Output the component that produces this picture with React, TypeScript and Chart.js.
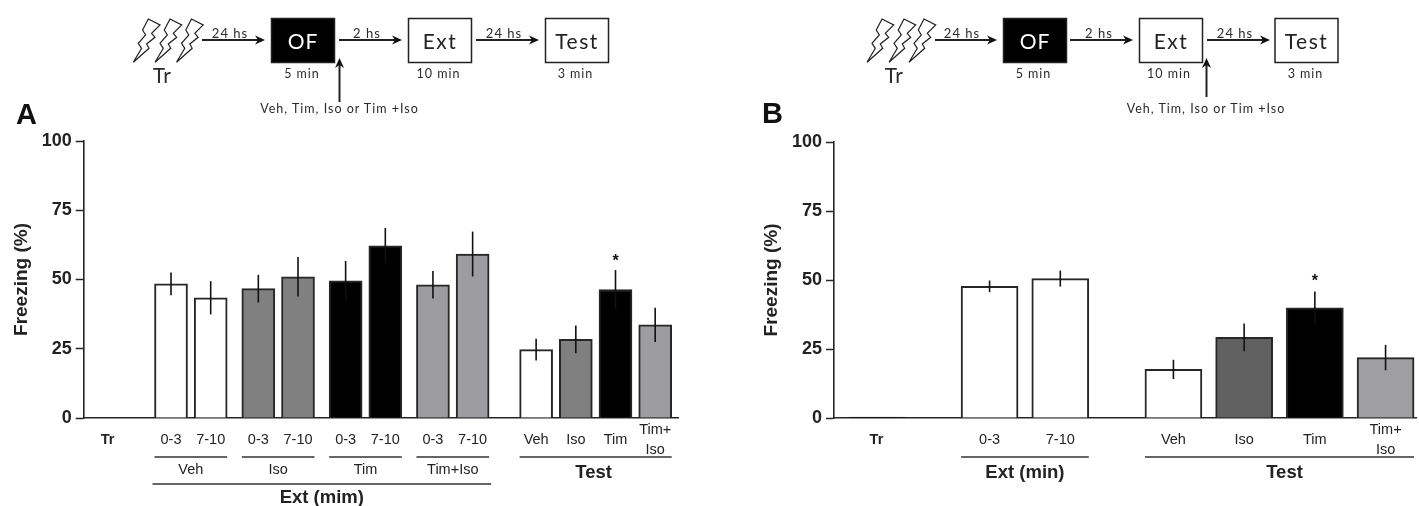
import React, { useEffect, useRef } from "react";
import { Chart, registerables } from "chart.js";

Chart.register(...registerables);

// ---------- data ----------
const labelsA: (string | string[])[] = ["Tr", "0-3", "7-10", "0-3", "7-10", "0-3", "7-10", "0-3", "7-10", "Veh", "Iso", "Tim", ["Tim+", "Iso"]];
const meansA: (number | null)[] = [null, 48.4, 43.4, 46.7, 51, 49.5, 62.2, 48.1, 59.2, 24.7, 28.4, 46.4, 33.6];
const semA: (number | null)[] = [null, 4.1, 6, 5, 7.1, 7.2, 6.4, 5, 8.1, 3.9, 5, 7, 6.2];
const fillsA = ["#ffffff", "#ffffff", "#ffffff", "#808080", "#808080", "#000000", "#000000", "#9d9da1", "#9d9da1", "#ffffff", "#808080", "#000000", "#9d9da1"];

const labelsB: (string | string[])[] = ["Tr", "0-3", "7-10", "Veh", "Iso", "Tim", ["Tim+", "Iso"]];
const meansB: (number | null)[] = [0.3, 47.7, 50.5, 17.6, 29.2, 39.9, 21.9];
const semB: (number | null)[] = [null, 2.1, 2.9, 3.5, 5, 5.9, 4.6];
const fillsB = ["#000000", "#ffffff", "#ffffff", "#ffffff", "#606060", "#000000", "#9f9fa3"];

const yTicks = [0, 25, 50, 75, 100];

const FONT = "'Liberation Sans', Arial, sans-serif";
const DARK = "#262626";

type Group = { from: number; to: number; text: string; lineY: number; textY: number; bold: boolean; extend?: number; nudge?: number };

const groupsA: Group[] = [
  { from: 1, to: 2, text: "Veh", lineY: 457, textY: 470, bold: false },
  { from: 3, to: 4, text: "Iso", lineY: 457, textY: 470, bold: false },
  { from: 5, to: 6, text: "Tim", lineY: 457, textY: 470, bold: false },
  { from: 7, to: 8, text: "Tim+Iso", lineY: 457, textY: 470, bold: false },
  { from: 9, to: 12, text: "Test", lineY: 457, textY: 472.5, bold: true, nudge: -2 },
  { from: 1, to: 8, text: "Ext (mim)", lineY: 484, textY: 498, bold: true, extend: 2 },
];
const groupsB: Group[] = [
  { from: 1, to: 2, text: "Ext (min)", lineY: 457, textY: 473, bold: true },
  { from: 3, to: 6, text: "Test", lineY: 457, textY: 473, bold: true, nudge: 5 },
];

// ---------- slot layout: blank categories space the bars like the original ----------
const gapsA = [3, 8, 5, 6, 5, 6, 5, 6, 5, 8, 5, 5, 5, 3];
const gapsB = [3, 8, 5, 8, 5, 5, 5, 3];

function buildSlots(gaps: number[], labels: (string | string[])[], values: (number | null)[], fills: string[]) {
  const total = gaps.reduce((a, b) => a + b, 0) + 1;
  const outLabels: (string | string[])[] = Array(total).fill("");
  const outValues: (number | null)[] = Array(total).fill(null);
  const outFills: string[] = Array(total).fill("#ffffff");
  const index: number[] = [];
  let pos = 0;
  labels.forEach((label, i) => {
    pos += gaps[i];
    index.push(pos);
    outLabels[pos] = label;
    outValues[pos] = values[i];
    outFills[pos] = fills[i];
  });
  return { outLabels, outValues, outFills, index };
}

type PanelProps = {
  left: number; width: number; clip: number; axisWidth: number; top: number;
  barWidth: number; labels: (string | string[])[]; means: (number | null)[]; sem: (number | null)[];
  fills: string[]; gaps: number[]; groups: Group[]; starBar: number; starGap: number;
};

function Panel(p: PanelProps) {
  const ref = useRef<HTMLCanvasElement | null>(null);
  useEffect(() => {
    if (!ref.current) return;
    const s = buildSlots(p.gaps, p.labels, p.means, p.fills);
    const annotations = {
      id: "annotations",
      afterDatasetsDraw(chart: any) {
        const { ctx, scales } = chart;
        const x = scales.x, y = scales.y;
        ctx.save();
        // error bars
        ctx.strokeStyle = "#111111";
        ctx.lineWidth = 1.6;
        p.sem.forEach((e, i) => {
          const m = p.means[i];
          if (e == null || m == null) return;
          const px = x.getPixelForValue(s.index[i]);
          ctx.beginPath();
          ctx.moveTo(px, y.getPixelForValue(m - e));
          ctx.lineTo(px, y.getPixelForValue(m + e));
          ctx.stroke();
        });
        // significance star
        const sx = x.getPixelForValue(s.index[p.starBar]);
        const sy = y.getPixelForValue((p.means[p.starBar] as number) + (p.sem[p.starBar] as number));
        ctx.fillStyle = "#111111";
        ctx.font = `bold 16px ${FONT}`;
        ctx.textAlign = "center";
        ctx.textBaseline = "middle";
        ctx.fillText("*", sx, sy - p.starGap);
        // group brackets
        p.groups.forEach((g) => {
          const half = p.barWidth / 2;
          const ext = g.extend ?? 0;
          const x0 = x.getPixelForValue(s.index[g.from]) - half - ext;
          const x1 = x.getPixelForValue(s.index[g.to]) + half + ext;
          ctx.strokeStyle = "#333333";
          ctx.lineWidth = 1.6;
          ctx.beginPath();
          ctx.moveTo(x0, g.lineY);
          ctx.lineTo(x1, g.lineY);
          ctx.stroke();
          ctx.fillStyle = "#222222";
          ctx.font = g.bold ? `bold 18.5px ${FONT}` : `14.5px ${FONT}`;
          ctx.fillText(g.text, (x0 + x1) / 2 + (g.nudge ?? 0), g.textY);
        });
        ctx.restore();
      },
    };
    const chart = new Chart(ref.current, {
      type: "bar",
      data: {
        labels: s.outLabels as any,
        datasets: [{
          data: s.outValues as any,
          backgroundColor: s.outFills,
          borderColor: DARK,
          borderWidth: 2,
          borderSkipped: "bottom",
          barThickness: p.barWidth,
        }],
      },
      plugins: [annotations],
      options: {
        responsive: false,
        animation: false,
        layout: { padding: { top: p.top, left: 0, right: 0, bottom: 0 } },
        plugins: { legend: { display: false }, tooltip: { enabled: false } },
        scales: {
          x: {
            type: "category",
            offset: false,
            grid: { display: false, drawTicks: false },
            border: { color: DARK, width: 1.6 },
            afterFit: (sc: any) => {
              sc.height = 506 - 418;
              sc.paddingLeft = 0;
              sc.paddingRight = 0;
            },
            ticks: {
              autoSkip: false,
              maxRotation: 0,
              minRotation: 0,
              padding: 12,
              crossAlign: "center",
              color: "#222222",
              font: (c: any) => ({
                family: FONT,
                size: 14.5,
                lineHeight: 1.38,
                weight: c.tick && c.tick.label === "Tr" ? "bold" : "normal",
              }),
            },
          },
          y: {
            min: 0,
            max: 100,
            afterFit: (sc: any) => { sc.width = p.axisWidth; },
            afterBuildTicks: (sc: any) => { sc.ticks = yTicks.map((value) => ({ value })); },
            grid: { drawOnChartArea: false, drawTicks: true, tickLength: 8, tickColor: DARK, tickWidth: 1.5 },
            border: { color: DARK, width: 1.6 },
            ticks: { padding: 4, color: "#222222", font: { family: FONT, size: 18, weight: "bold" } },
            title: {
              display: true,
              text: "Freezing (%)",
              color: "#222222",
              padding: { top: 10, bottom: 0 },
              font: { family: FONT, size: 19, weight: "bold" },
            },
          },
        },
      } as any,
    });
    return () => chart.destroy();
  }, []);
  return (
    <div style={{ position: "absolute", left: p.left, top: 0, width: p.clip, height: 506, overflow: "hidden" }}>
      <canvas ref={ref} width={p.width} height={506} style={{ display: "block", width: p.width, height: 506 }} />
    </div>
  );
}

// ---------- protocol diagrams ----------
const BOLT = "15,0 26.7,6 18.3,14.3 21.7,18.3 13.3,25 15.7,29.3 0,43.3 8.3,29.3 5,24.3 12.3,16 9.3,11";
const DFONT = "Lato, 'Open Sans', sans-serif";

function Arrow({ x1, y1, x2, y2 }: { x1: number; y1: number; x2: number; y2: number }) {
  const horizontal = y1 === y2;
  const head = horizontal
    ? `${x2},${y2} ${x2 - 10},${y2 - 4.5} ${x2 - 7},${y2} ${x2 - 10},${y2 + 4.5}`
    : `${x2},${y2} ${x2 - 4.5},${y2 + 10} ${x2},${y2 + 7} ${x2 + 4.5},${y2 + 10}`;
  return (
    <g>
      <line x1={x1} y1={y1} x2={horizontal ? x2 - 5 : x2} y2={horizontal ? y2 : y2 + 5} stroke="#222" strokeWidth={2} />
      <polygon points={head} fill="#111" />
    </g>
  );
}

type DiagramProps = {
  bolts: number[]; trX: number;
  arrows: [number, number, string, number][];
  boxes: [number, string, number, string][];
  upX: number; upTop: number; upBottom: number; noteX: number;
};

function Diagram(d: DiagramProps) {
  const t = (x: number, y: number, s: string, size: number, spacing: number, fill = "#2a2a2a") => (
    <text x={x} y={y} textAnchor="middle" dominantBaseline="central" fontFamily={DFONT} fontSize={size} letterSpacing={spacing} fill={fill}>{s}</text>
  );
  return (
    <g>
      {d.bolts.map((x) => (
        <polygon key={x} points={BOLT} transform={`translate(${x} 19)`} fill="#fff" stroke="#222" strokeWidth={1.2} />
      ))}
      {t(d.trX, 74, "Tr", 21, 0.5)}
      {d.arrows.map(([a, b, s, c]) => (
        <g key={a}>
          <Arrow x1={a} y1={40} x2={b} y2={40} />
          {t(c, 33, s, 13, 1)}
        </g>
      ))}
      {d.boxes.map(([x, name, cx, dur], i) => (
        <g key={x}>
          <rect x={x} y={18.5} width={63} height={44} fill={i === 0 ? "#000" : "#fff"} stroke="#222" strokeWidth={1.5} />
          {t(x + 31.5, 40, name, 21, i === 0 ? 1 : 1.5, i === 0 ? "#fff" : "#222")}
          {t(cx, 73, dur, 12.5, 1)}
        </g>
      ))}
      <Arrow x1={d.upX} y1={d.upBottom} x2={d.upX} y2={d.upTop} />
      {t(d.noteX, 108, "Veh, Tim, Iso or Tim +Iso", 12.5, 1)}
    </g>
  );
}

export default function App() {
  return (
    <>
      <Panel left={0} width={679} clip={700} axisWidth={83.7} top={141} barWidth={33}
        labels={labelsA} means={meansA} sem={semA} fills={fillsA} gaps={gapsA} groups={groupsA} starBar={11} starGap={8} />
      <Panel left={750} width={678} clip={667} axisWidth={84} top={142} barWidth={57}
        labels={labelsB} means={meansB} sem={semB} fills={fillsB} gaps={gapsB} groups={groupsB} starBar={5} starGap={10} />
      <svg width={1419} height={506} style={{ position: "absolute", left: 0, top: 0, pointerEvents: "none" }}>
        <text x={16} y={124} fontFamily={FONT} fontWeight="bold" fontSize={29} fill="#111">A</text>
        <text x={762} y={123} fontFamily={FONT} fontWeight="bold" fontSize={29} fill="#111">B</text>
        <Diagram bolts={[133.3, 155, 176.5]} trX={162}
          arrows={[[202, 265, "24 hs", 230], [339, 402, "2 hs", 367], [476, 539, "24 hs", 504]]}
          boxes={[[271.5, "OF", 302, "5 min"], [408.5, "Ext", 438.5, "10 min"], [545.5, "Test", 575.5, "3 min"]]}
          upX={339.5} upTop={58} upBottom={102} noteX={339.5} />
        <Diagram bolts={[867, 889, 909]} trX={894}
          arrows={[[935, 997, "24 hs", 962], [1070, 1133, "2 hs", 1099], [1207, 1270, "24 hs", 1235]]}
          boxes={[[1003.5, "OF", 1033.5, "5 min"], [1139.5, "Ext", 1169, "10 min"], [1275, "Test", 1305.5, "3 min"]]}
          upX={1206.5} upTop={58} upBottom={97} noteX={1206} />
      </svg>
    </>
  );
}
